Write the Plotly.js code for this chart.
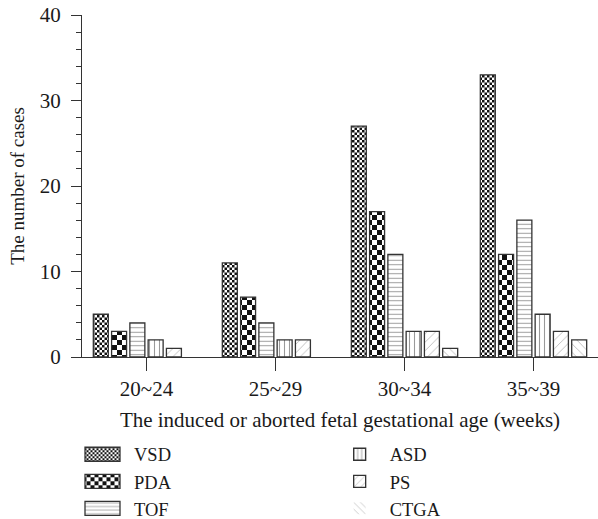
<!DOCTYPE html>
<html>
<head>
<meta charset="utf-8">
<script src="https://cdn.plot.ly/plotly-3.0.1.min.js"></script>
<style>
  html, body { margin: 0; padding: 0; background: #fff; }
  #chart { width: 598px; height: 519px; }
</style>
</head>
<body>
<div id="chart"></div>
<script>
// ---- data ----
const categories = ['20~24', '25~29', '30~34', '35~39'];
const VSD  = [5, 11, 27, 33];
const PDA  = [3, 7, 17, 12];
const TOF  = [4, 4, 12, 16];
const ASD  = [2, 2, 3, 5];
const PS   = [1, 2, 3, 3];
const CTGA = [0, 0, 1, 2];

const yTitle = 'The number of cases';
const xTitle = 'The induced or aborted fetal gestational age (weeks)';

const FONT = 'Liberation Serif, Times New Roman, serif';
const EDGE = '#333333';
const TXT = '#1a1a1a';

function barTrace(name, values, pattern, legend) {
  return {
    type: 'bar',
    name: name,
    x: categories,
    y: values,
    legend: legend,
    marker: {
      color: '#ffffff',
      // no outline on empty (zero) bars
      line: { color: EDGE, width: values.map(function (v) { return v > 0 ? 1.3 : 0; }) },
      pattern: Object.assign({ bgcolor: '#ffffff', fillmode: 'overlay' }, pattern)
    },
    hoverinfo: 'x+y+name'
  };
}

const data = [
  barTrace('VSD',  VSD,  { shape: '.', size: 5,  solidity: 0.5, fgcolor: '#111' }, 'legend'),
  barTrace('PDA',  PDA,  { shape: '.', size: 10, solidity: 0.5, fgcolor: '#111' }, 'legend'),
  barTrace('TOF',  TOF,  { shape: '-', size: 4.5, solidity: 0.22, fgcolor: '#333' }, 'legend'),
  barTrace('ASD',  ASD,  { shape: '|', size: 5,  solidity: 0.22, fgcolor: '#333' }, 'legend2'),
  barTrace('PS',   PS,   { shape: '/', size: 6,  solidity: 0.15, fgcolor: '#777' }, 'legend2'),
  barTrace('CTGA', CTGA, { shape: '\\', size: 6, solidity: 0.15, fgcolor: '#777' }, 'legend2')
];

const legendCommon = {
  orientation: 'v',
  bgcolor: 'rgba(0,0,0,0)',
  font: { family: FONT, size: 18.5, color: TXT },
  traceorder: 'normal',
  itemwidth: 50,
  xanchor: 'left', yanchor: 'top'
};

const layout = {
  width: 598,
  height: 519,
  margin: { l: 82, r: 0, t: 15, b: 162 },
  paper_bgcolor: '#ffffff',
  plot_bgcolor: '#ffffff',
  font: { family: FONT, size: 20, color: TXT },
  barmode: 'group',
  bargap: 0.15,
  bargroupgap: 0.18,
  showlegend: true,
  xaxis: {
    type: 'category',
    range: [-0.5, 3.5],
    automargin: false,
    showline: true,
    linecolor: EDGE,
    linewidth: 1,
    ticks: 'outside',
    ticklen: 13,
    tickcolor: EDGE,
    showgrid: false,
    zeroline: false,
    tickfont: { family: FONT, size: 21, color: TXT },
    title: { text: xTitle, font: { family: FONT, size: 21, color: TXT }, standoff: 12 }
  },
  yaxis: {
    range: [0, 40],
    dtick: 10,
    automargin: false,
    showline: true,
    linecolor: EDGE,
    linewidth: 1,
    ticks: 'outside',
    ticklen: 10,
    tickcolor: EDGE,
    ticklabelstandoff: 6,
    minor: { dtick: 2, ticks: 'outside', ticklen: 5, tickcolor: EDGE },
    showgrid: false,
    zeroline: false,
    tickfont: { family: FONT, size: 21, color: TXT },
    title: { text: yTitle, font: { family: FONT, size: 19, color: TXT }, standoff: 10 }
  },
  legend: Object.assign({}, legendCommon, { x: -0.0155, y: -0.198 }),
  legend2: Object.assign({}, legendCommon, { x: 0.48, y: -0.198 })
};

const svgNS = 'http://www.w3.org/2000/svg';
const NUDGE = ' translate(0,11)';
const SMALL_D = 'M6,6H-6V-6H6Z';
const WIDE_D = 'M17.5,7H-17.5V-7H17.5Z';

// turn the dot patterns into checkerboards (style only)
function checkerPatterns() {
  document.querySelectorAll('#chart pattern').forEach(function (p) {
    if (!p.querySelector('circle')) return;
    const s = parseFloat(p.getAttribute('width'));
    while (p.firstChild) p.removeChild(p.firstChild);
    const bg = document.createElementNS(svgNS, 'rect');
    bg.setAttribute('x', 0); bg.setAttribute('y', 0);
    bg.setAttribute('width', s); bg.setAttribute('height', s);
    bg.setAttribute('fill', '#ffffff');
    p.appendChild(bg);
    [[0, 0], [s / 2, s / 2]].forEach(function (o) {
      const r = document.createElementNS(svgNS, 'rect');
      r.setAttribute('x', o[0]); r.setAttribute('y', o[1]);
      r.setAttribute('width', s / 2); r.setAttribute('height', s / 2);
      r.setAttribute('fill', '#111111');
      p.appendChild(r);
    });
  });
}

function translateX(t) {
  const m = /translate\(\s*([-\d.eE]+)/.exec(t || '');
  return m ? parseFloat(m[1]) : 0;
}

// wider legend swatches like the reference (style only)
function widenSwatches() {
  document.querySelectorAll('#chart g.legendpoints path').forEach(function (sw) {
    const d = (sw.getAttribute('d') || '').replace(/\s/g, '');
    if (d !== SMALL_D && d !== WIDE_D) return;
    const t = sw.getAttribute('transform') || '';
    const mine = sw.getAttribute('data-mytf');
    if (d === WIDE_D && t === mine) return;
    const base = (mine && t === mine) ? (sw.getAttribute('data-base') || '') : t;
    const item = sw.closest('g.traces');
    const txt = item ? item.querySelector('text.legendtext') : null;
    if (!txt) return;
    const textX = parseFloat(txt.getAttribute('x'));
    if (!isFinite(textX)) return;
    const dx = (textX - 31.5) - translateX(base);
    if (!isFinite(dx) || Math.abs(dx) > 60) return;
    const newT = (base ? base + ' ' : '') + 'translate(' + dx.toFixed(2) + ',0)';
    sw.setAttribute('data-base', base);
    sw.setAttribute('data-mytf', newT);
    sw.setAttribute('d', WIDE_D);
    sw.setAttribute('transform', newT);
    sw.style.stroke = EDGE;
    sw.style.strokeWidth = '1.3px';
  });
}

// nudge the legends down to the reference rows without shrinking the plot
function nudgeLegends() {
  document.querySelectorAll('#chart g.legend, #chart g.legend2').forEach(function (g) {
    const t = g.getAttribute('transform') || '';
    if (t.slice(-NUDGE.length) === NUDGE) return;
    g.setAttribute('transform', t + NUDGE);
  });
}

let busy = false;
function restyleDecor() {
  if (busy) return;
  busy = true;
  try { checkerPatterns(); widenSwatches(); nudgeLegends(); } finally { busy = false; }
}

const gd = document.getElementById('chart');
Plotly.newPlot(gd, data, layout, { displayModeBar: false, staticPlot: true }).then(function () {
  restyleDecor();
  gd.on('plotly_afterplot', restyleDecor);
  new MutationObserver(function () { restyleDecor(); })
    .observe(gd, { childList: true, subtree: true, attributes: true, attributeFilter: ['d', 'transform'] });
  [0, 50, 150, 400, 800].forEach(function (ms) { setTimeout(restyleDecor, ms); });
});
</script>
</body>
</html>
